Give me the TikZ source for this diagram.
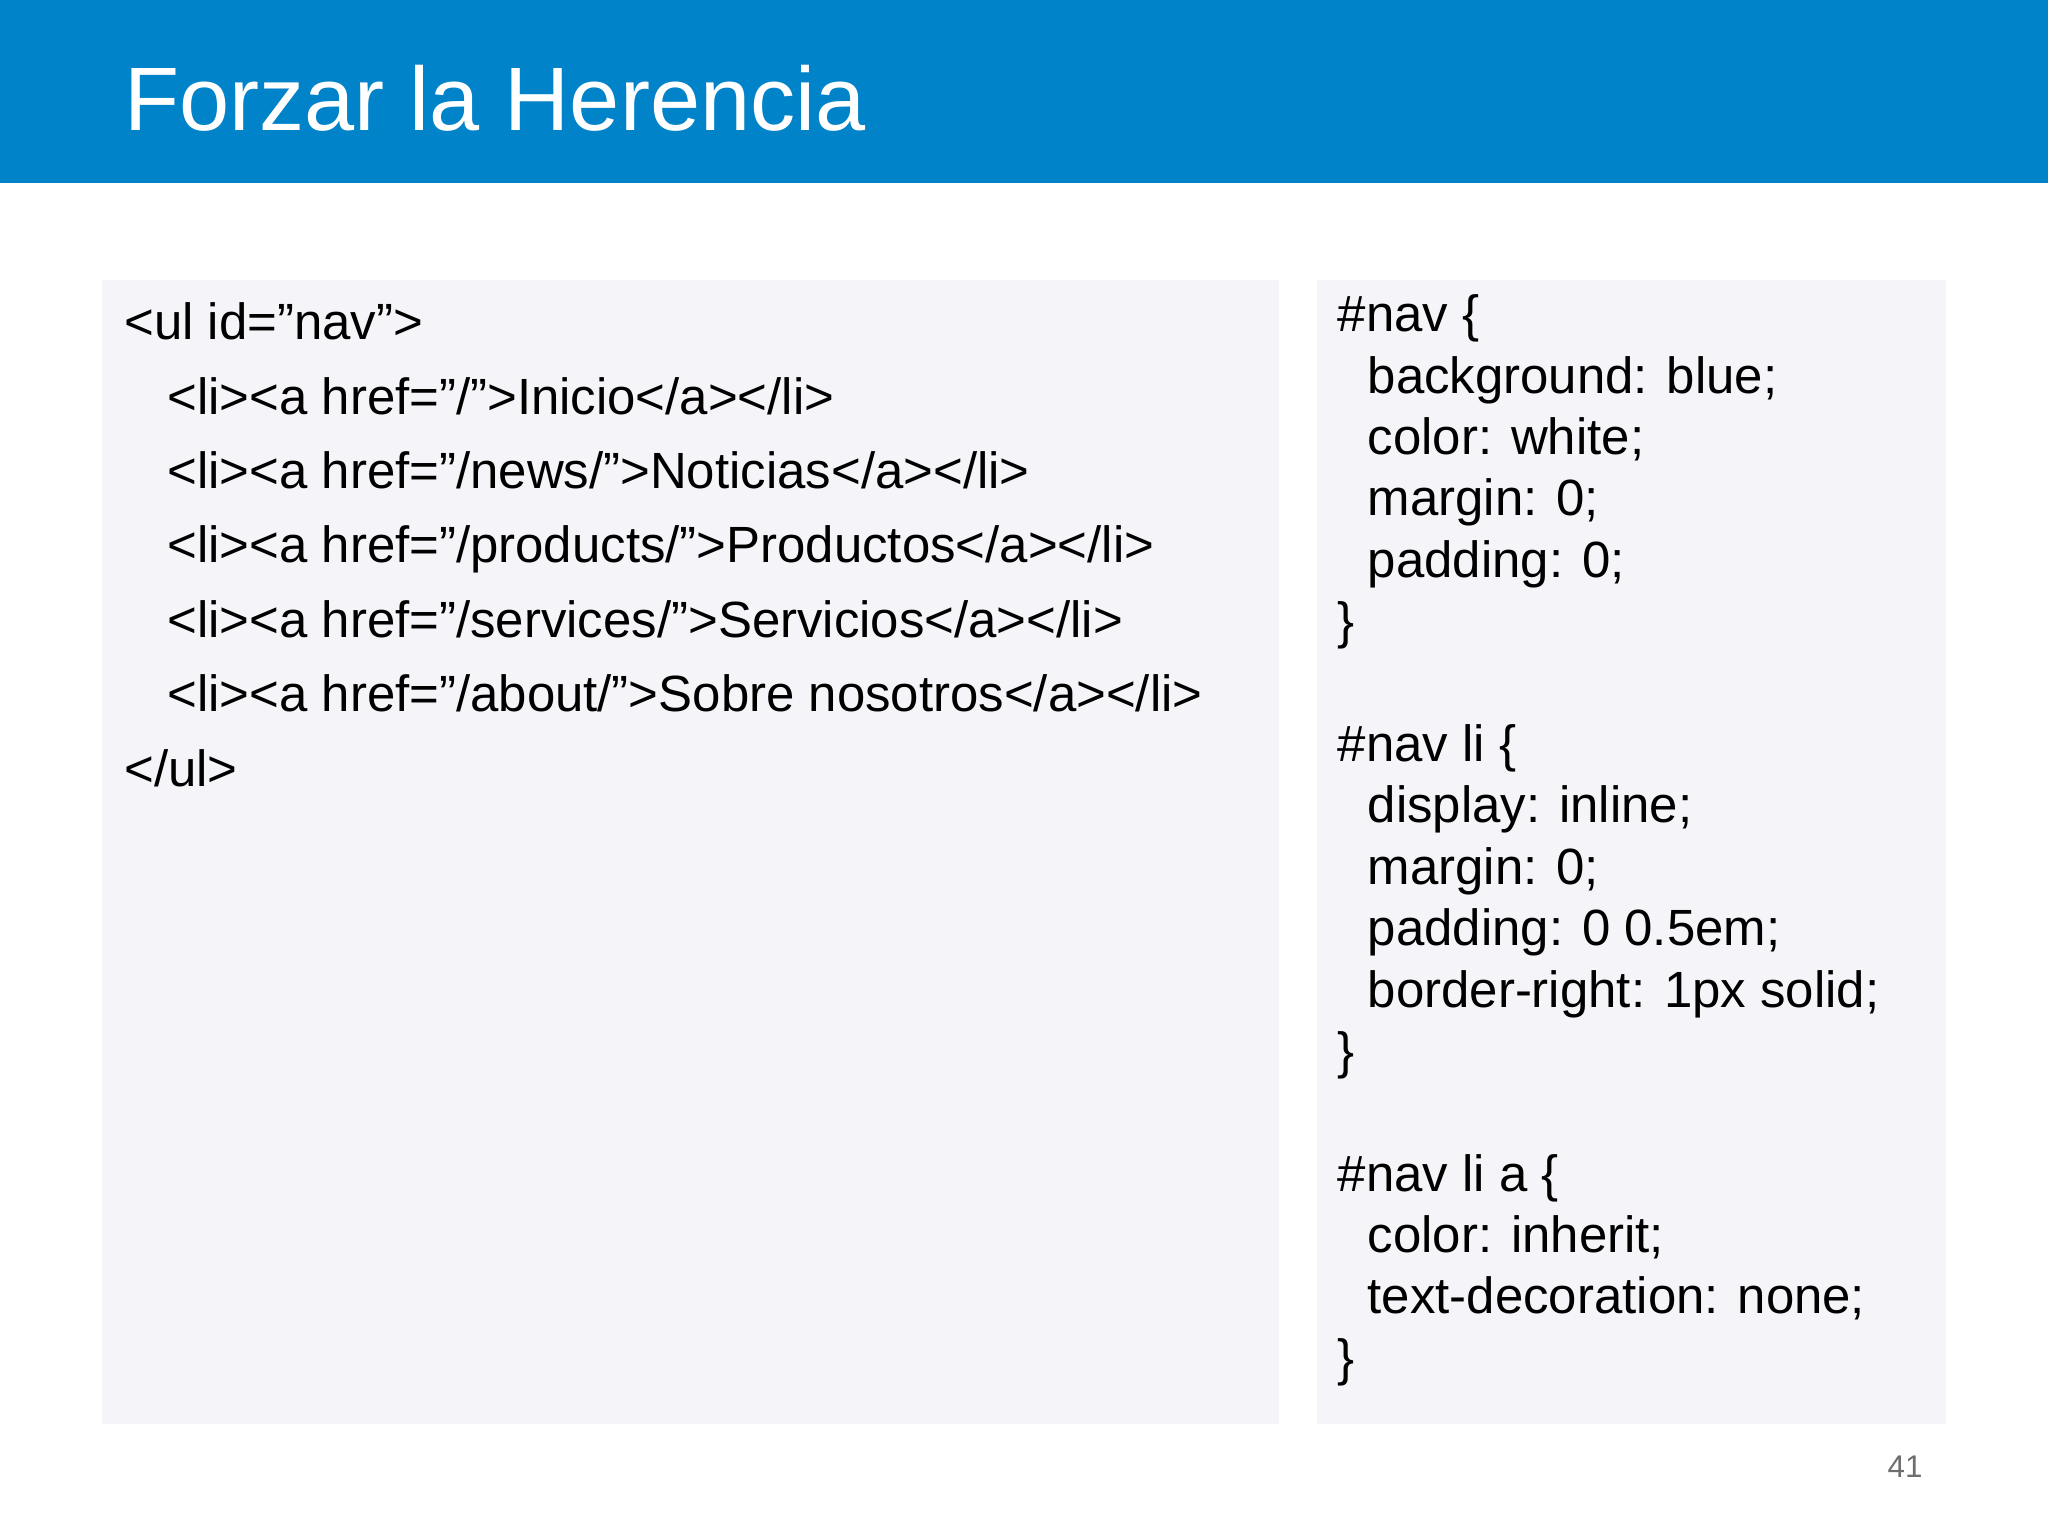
\documentclass[tikz,border=0pt]{standalone}
\usepackage{fontspec}
\setmainfont{Liberation Sans}
\definecolor{hdr}{HTML}{0083C8}
\definecolor{boxbg}{HTML}{F5F4F8}
\definecolor{pg}{HTML}{6E6E6E}
\begin{document}
\begin{tikzpicture}[x=1pt,y=-1pt,
  code/.style={anchor=base west,inner sep=0pt,font=\fontsize{39}{47}\selectfont,text=black}]
\useasboundingbox (0,0) rectangle (1568,1176);
\fill[hdr] (0,0) rectangle (1568,140);
\node[anchor=base west,inner sep=0pt,text=white,font=\fontsize{69}{80}\selectfont] (title) at (95,100) {Forzar la Herencia};
\fill[boxbg] (78,214) rectangle (979,1090);
\fill[boxbg] (1008,214) rectangle (1490,1090);
\node[code] (h0) at (95,260) {<ul id="nav">};
\node[code] (h1) at (128,317) {<li><a href="/">Inicio</a></li>};
\node[code] (h2) at (128,374) {<li><a href="/news/">Noticias</a></li>};
\node[code] (h3) at (128,431) {<li><a href="/products/">Productos</a></li>};
\node[code] (h4) at (128,488) {<li><a href="/services/">Servicios</a></li>};
\node[code] (h5) at (128,545) {<li><a href="/about/">Sobre nosotros</a></li>};
\node[code] (h6) at (95,602) {</ul>};
\node[code] (c0) at (1024,254) {\#nav \{};
\node[code] (c1) at (1047,301) {background: blue;};
\node[code] (c2) at (1047,348) {color: white;};
\node[code] (c3) at (1047,395) {margin: 0;};
\node[code] (c4) at (1047,442) {padding: 0;};
\node[code] (c5) at (1024,489) {\}};
\node[code] (c7) at (1024,583) {\#nav li \{};
\node[code] (c8) at (1047,630) {display: inline;};
\node[code] (c9) at (1047,677) {margin: 0;};
\node[code] (c10) at (1047,724) {padding: 0 0.5em;};
\node[code] (c11) at (1047,771) {border-right: 1px solid;};
\node[code] (c12) at (1024,818) {\}};
\node[code] (c14) at (1024,912) {\#nav li a \{};
\node[code] (c15) at (1047,959) {color: inherit;};
\node[code] (c16) at (1047,1006) {text-decoration: none;};
\node[code] (c17) at (1024,1053) {\}};
\node[anchor=base west,inner sep=0pt,text=pg,font=\fontsize{24}{28}\selectfont] (pn) at (1445,1131) {41};
\end{tikzpicture}
\end{document}
